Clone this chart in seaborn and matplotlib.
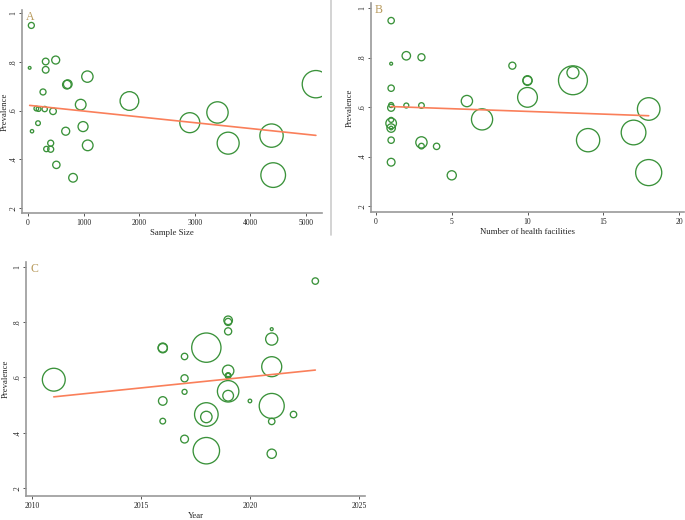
import matplotlib
matplotlib.use("Agg")
import matplotlib.pyplot as plt
from matplotlib.lines import Line2D
import seaborn as sns
import pandas as pd
import numpy as np

sns.set_style("white")
plt.rcParams['font.family'] = ['Liberation Serif', 'DejaVu Serif']

# Datos (un estudio por posicion)
sample_size = [60, 30, 318, 498, 318, 1068, 700, 715, 270, 1824, 948, 150, 190, 300, 450,
               3408, 2910, 180, 990, 72, 678, 4380, 3600, 408, 1074, 330, 408, 510, 810,
               4410, 5178]
facilities = [1, 1, 3, 2, 9, 13, 10, 10, 1, 10, 6, 1, 2, 3, 1,
              18, 7, 1, 1, 1, 1, 17, 14, 1, 3, 3, 4, 1, 5,
              18, 13]
year = [2023, 2021, 2019, 2019, 2019, 2021, 2016, 2016, 2017, 2021, 2019, 2019, 2019, 2019, 2017,
        2011, 2019, 2017, 2019, 2020, 2016, 2021, 2018, 2022, 2018, 2016, 2021, 2017, 2021,
        2018, 2018]
prevalence = [0.949, 0.775, 0.801, 0.807, 0.767, 0.739, 0.706, 0.708, 0.676, 0.639, 0.624,
              0.608, 0.606, 0.606, 0.597, 0.592, 0.550, 0.548, 0.534, 0.515, 0.515, 0.497,
              0.466, 0.466, 0.457, 0.442, 0.441, 0.377, 0.324, 0.335, 0.708]
# Peso (%) de cada estudio, el area de la burbuja es proporcional
weight = [0.74, 0.15, 0.91, 1.31, 0.91, 2.64, 1.54, 1.54, 0.74, 7.16, 2.34, 0.45, 0.45, 0.58,
          0.91, 9.35, 8.22, 0.45, 2.05, 0.23, 1.31, 11.19, 9.94, 0.74, 2.34, 0.58, 0.74, 1.10,
          1.54, 12.50, 15.35]

# Coeficientes de la meta-regresion (intercepto, pendiente)
coef_sample = (0.6217, -0.0000239)
coef_facilities = (0.604, -0.00218)
coef_year = (-15.719, 0.00808)

y_ticks = [0.2, 0.4, 0.6, 0.8, 1.0]
y_tick_labels = ['.2', '.4', '.6', '.8', '1']

datos = pd.DataFrame({'sample': sample_size, 'facilities': facilities, 'year': year,
                      'prev': prevalence, 'weight': weight})

VERDE = '#3a923a'
NARANJA = '#fa7f5a'
DORADO = '#b89a5c'
GRIS = '#9a9a9a'

W, H = 685, 520
fig = plt.figure(figsize=(W / 100, H / 100), dpi=100)

def caja(izq, der, arriba, abajo):
    # convierte pixeles a fracciones de la figura
    return [izq / W, 1 - abajo / H, (der - izq) / W, (abajo - arriba) / H]

paneles = [
    dict(col='sample', coef=coef_sample, letra='A', xlabel='Sample Size',
         box=caja(22, 322, 10, 213), xlim=(-108, 5288), ylim=(0.1795, 1.0123),
         xticks=[0, 1000, 2000, 3000, 4000, 5000], escala=1.0, ylab_x=-0.043),
    dict(col='facilities', coef=coef_facilities, letra='B', xlabel='Number of health facilities',
         box=caja(371, 684, 3, 212), xlim=(-0.33, 20.33), ylim=(0.1758, 1.0202),
         xticks=[0, 5, 10, 15, 20], escala=1.12, ylab_x=-0.054),
    dict(col='year', coef=coef_year, letra='C', xlabel='Year',
         box=caja(26, 365, 262, 496), xlim=(2009.725, 2025.28), ylim=(0.171, 1.018),
         xticks=[2010, 2015, 2020, 2025], escala=1.15, ylab_x=-0.049),
]

for p in paneles:
    ax = fig.add_axes(p['box'])
    e = p['escala']
    sns.scatterplot(datos, x=p['col'], y='prev', size='weight', sizes=(0, 25.2 * 20 * e),
                    size_norm=(0, 20), legend=False, facecolors='none', edgecolor=VERDE,
                    linewidth=0.95, ax=ax)
    xs = np.array([datos[p['col']].min(), datos[p['col']].max()])
    b0, b1 = p['coef']
    sns.lineplot(x=xs, y=b0 + b1 * xs, color=NARANJA, linewidth=1.2, ax=ax)

    ax.set_xlim(*p['xlim'])
    ax.set_ylim(*p['ylim'])
    ax.set_xticks(p['xticks'])
    ax.set_xticklabels([str(t) for t in p['xticks']], fontsize=5.5)
    ax.set_yticks(y_ticks)
    ax.set_yticklabels(y_tick_labels, fontsize=5.5, rotation=90, va='center')
    ax.set_xlabel(p['xlabel'], fontsize=6.3, labelpad=2)
    ax.set_ylabel('Prevalence', fontsize=6.3)
    ax.yaxis.set_label_coords(p['ylab_x'], 0.5)
    for s in ['top', 'right']:
        ax.spines[s].set_visible(False)
    for s in ['left', 'bottom']:
        ax.spines[s].set_color(GRIS)
        ax.spines[s].set_linewidth(1.2)
    ax.tick_params(direction='out', length=2, width=0.7, color='#555555', pad=1.2,
                   left=True, bottom=True, labelcolor='#222222')
    ax.tick_params(axis='x', pad=2)
    ax.text(0.012, 0.995, p['letra'], transform=ax.transAxes, fontsize=8.5, color=DORADO,
            ha='left', va='top')

# linea separadora entre A y B
fig.add_artist(Line2D([331 / W, 331 / W], [1, 1 - 235 / H], color='#cccccc', linewidth=1.2))

fig.savefig('out.png', dpi=100)
